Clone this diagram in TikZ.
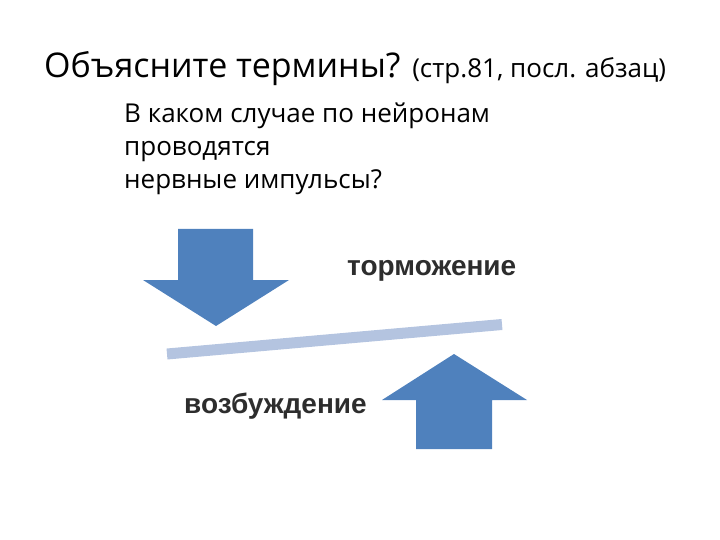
\documentclass[tikz,border=0pt]{standalone}
\usepackage{fontspec}
\setmainfont{Open Sans}
\newfontfamily\termfont{Liberation Sans}
\usetikzlibrary{positioning}
\definecolor{arrowblue}{RGB}{79,129,189}
\definecolor{barblue}{RGB}{180,196,224}
\definecolor{labelgray}{RGB}{45,45,45}
\tikzset{%
	blockarrow/.style={fill=arrowblue, draw=none},
	lever/.style={draw=barblue, line width=11pt},
	title/.style={anchor=base west, inner sep=0pt, font=\fontsize{34}{40}\selectfont},
	question/.style={anchor=base west, inner sep=0pt, align=left,%
		font=\fontsize{26}{33}\selectfont},
	term/.style={anchor=base west, inner sep=0pt, text=labelgray,%
		font=\termfont\bfseries\fontsize{28}{32}\selectfont}
}
\begin{document}
\begin{tikzpicture}[x=1pt, y=-1pt]
		\useasboundingbox (0,0) rectangle (720,540);
		\node[title] (head) at (44,78) {Объясните термины? {\fontsize{26}{30}\selectfont(стр.81, посл. абзац)}};
		\node[question] (ask) at (124,189) {В каком случае по нейронам\\проводятся\\нервные импульсы?};

		% down arrow
		\fill[blockarrow] (178,229) -- (253,229) -- (253,280) -- (289,280)
			-- (216,326) -- (143,280) -- (178,280) -- cycle;
		% up arrow
		\fill[blockarrow] (416,449) -- (492,449) -- (492,400) -- (527,400)
			-- (454,354) -- (382,400) -- (416,400) -- cycle;

		\coordinate (bar-l) at (167,354);
		\coordinate (bar-r) at (502,324.5);
		\draw[lever] (bar-l) -- (bar-r);

		\node[term] (inhib) at (347,275) {торможение};
		\node[term] (excit) at (184,413) {возбуждение};
	\end{tikzpicture}
\end{document}
